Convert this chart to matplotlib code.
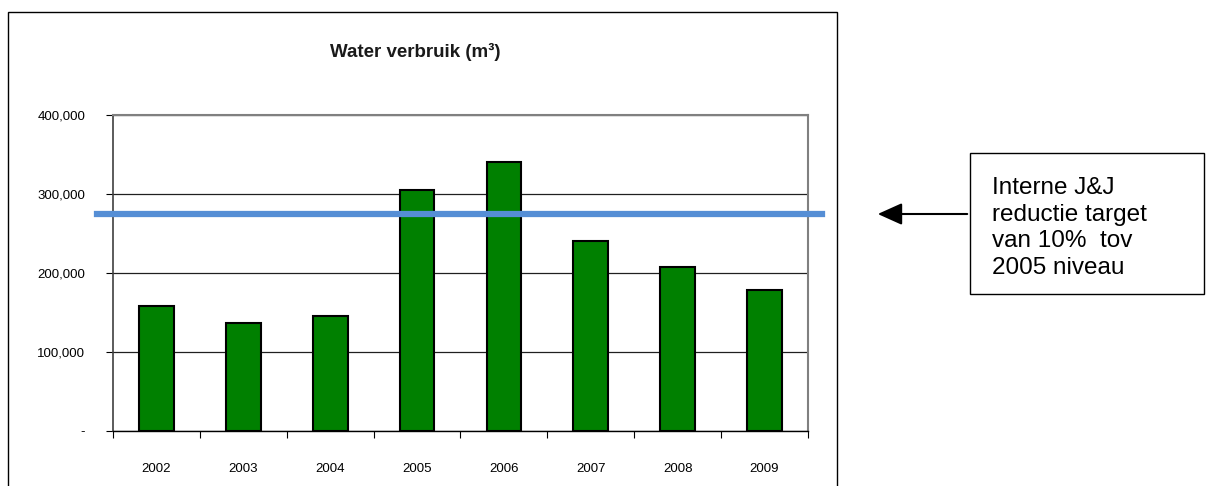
import matplotlib.pyplot as plt
from matplotlib.patches import Rectangle, FancyArrowPatch
from matplotlib.ticker import FuncFormatter

years = ["2002", "2003", "2004", "2005", "2006", "2007", "2008", "2009"]
water_m3 = [158000, 137000, 145000, 305000, 340000, 240000, 207000, 178000]
target_m3 = 275000
y_ticks = [0, 100000, 200000, 300000, 400000]
note = "Interne J&J\nreductie target\nvan 10%  tov\n2005 niveau"

plt.rcParams["font.family"] = ["Liberation Sans", "DejaVu Sans"]

W, H = 1206, 486
fig = plt.figure(figsize=(W / 100, H / 100), dpi=100)

# chart frame (bottom runs off the picture)
fig.patches.append(Rectangle((8 / W, -0.05), (837 - 8) / W, (H - 12) / H + 0.05,
                             transform=fig.transFigure, fill=False,
                             edgecolor="black", linewidth=1.0))

ax = fig.add_axes([113 / W, 55 / H, (808 - 113) / W, (431 - 115) / H])

x = range(len(years))
ax.bar(x, water_m3, width=0.4, color="#008000", edgecolor="black",
       linewidth=1.5, zorder=3)

ax.axhline(target_m3, xmin=-0.023, xmax=1.02, color="#558ED5",
           linewidth=4.5, clip_on=False, zorder=4)

ax.set_xlim(-0.5, len(years) - 0.5)
ax.set_ylim(0, 400000)
ax.set_yticks(y_ticks)
ax.yaxis.set_major_formatter(FuncFormatter(lambda v, p: "-" if v == 0 else f"{int(v):,}"))
ax.grid(axis="y", color="#202020", linewidth=0.9, zorder=1)

ax.set_xticks(list(x))
ax.set_xticklabels(years)
ax.set_xticks([i - 0.5 for i in range(len(years) + 1)], minor=True)
ax.tick_params(axis="x", which="major", length=0, pad=23, labelsize=9.5)
ax.tick_params(axis="x", which="minor", length=5, width=0.8, color="black")
ax.tick_params(axis="y", length=5, width=0.8, pad=15, labelsize=9.5)

for side in ["top", "right"]:
    ax.spines[side].set_color("#808080")
    ax.spines[side].set_linewidth(1.5)
ax.spines["left"].set_color("#404040")
ax.spines["left"].set_linewidth(1.2)
ax.spines["bottom"].set_color("black")
ax.spines["bottom"].set_linewidth(1.0)

fig.text(415 / W, 1 - 52 / H, "Water verbruik (m³)", ha="center", va="center",
         fontsize=13.5, fontweight="bold", color="#1a1a1a")

# annotation box with arrow
fig.patches.append(Rectangle((970 / W, 1 - 294 / H), (1204 - 970) / W, (294 - 153) / H,
                             transform=fig.transFigure, fill=False,
                             edgecolor="black", linewidth=1.0))
fig.text(992 / W, 1 - 228 / H, note, ha="left", va="center", fontsize=17.5,
         linespacing=1.26)
fig.patches.append(FancyArrowPatch((970 / W, 1 - 214 / H), (875 / W, 1 - 214 / H),
                                   transform=fig.transFigure,
                                   arrowstyle="-|>,head_length=10,head_width=4.5",
                                   color="black", linewidth=1.5, mutation_scale=1.5))

fig.savefig("out.png", dpi=100)
